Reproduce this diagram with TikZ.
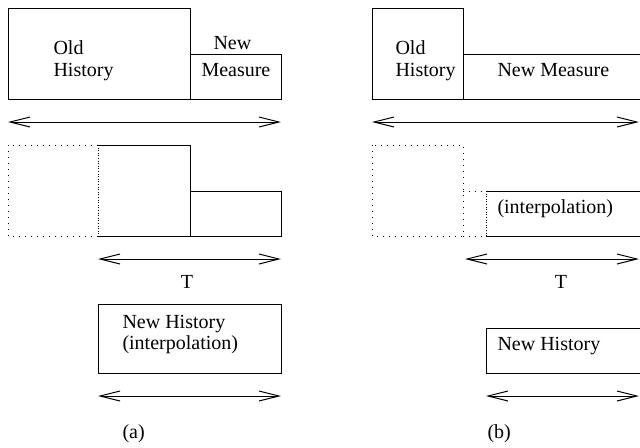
\documentclass[tikz,border=0pt]{standalone}
\usepackage{fontspec}
\setmainfont{Liberation Serif}
\usetikzlibrary{arrows.meta}

\tikzset{
  span/.style={{Straight Barb[length=10pt,width=5pt]}-{Straight Barb[length=10pt,width=5pt]}},
  lbl/.style={anchor=base west, inner sep=0pt},
  lblc/.style={anchor=base, inner sep=0pt},
  dots/.style={dash pattern=on 0.5pt off 2.5pt},
}

\begin{document}
\begin{tikzpicture}[x=0.5pt, y=-0.5pt, line width=0.5pt]
			\useasboundingbox (0,0) rectangle (640,447);
			% (a)
			\draw (8,8) rectangle (190,99);
			\draw (190,54) rectangle (281,99);
			\node[lbl] (oldA) at (53,54) {Old};
			\node[lbl] (histA) at (53,76) {History};
			\node[lbl] (newA) at (213,49) {New};
			\node[lbl] (measA) at (201,76) {Measure};
			\draw[span] (8,122) -- (281,122);
			\draw[dots] (98,145) -- (8,145) -- (8,236) -- (98,236);
			\draw[dash pattern=on 0.5pt off 0.8pt] (98,145) -- (98,236);
			\draw (98,145) -- (190,145) -- (190,236) -- (98,236);
			\draw (190,191) rectangle (281,236);
			\draw[span] (98,259) -- (281,259);
			\node[lblc] (tA) at (187,288) {T};
			\draw (98,304) rectangle (281,373);
			\node[lbl] (nhA) at (122,328) {New History};
			\node[lbl] (intA) at (122,349) {(interpolation)};
			\draw[span] (98,396) -- (281,396);
			\node[lbl] (capA) at (122,438) {(a)};
			% (b)
			\draw (372,8) rectangle (463,99);
			\draw (463,54) rectangle (650,99);
			\node[lbl] (oldB) at (395,54) {Old};
			\node[lbl] (histB) at (395,76) {History};
			\node[lbl] (measB) at (497,76) {New Measure};
			\draw[span] (372,122) -- (639,122);
			\draw[dots] (372,145) rectangle (463,236);
			\draw[dots] (463,191) -- (486,191);
			\draw[dots] (463,236) -- (486,236);
			\draw[dash pattern=on 0.5pt off 0.8pt] (486,191) -- (486,236);
			\draw (650,191) -- (486,191);
			\draw (486,236) -- (650,236);
			\node[lbl] (intB) at (497,213) {(interpolation)};
			\draw[span] (465,259) -- (639,259);
			\node[lblc] (tB) at (561,288) {T};
			\draw (486,328) rectangle (650,373);
			\node[lbl] (nhB) at (497,350) {New History};
			\draw[span] (486,396) -- (639,396);
			\node[lbl] (capB) at (487,438) {(b)};
		\end{tikzpicture}
\end{document}
